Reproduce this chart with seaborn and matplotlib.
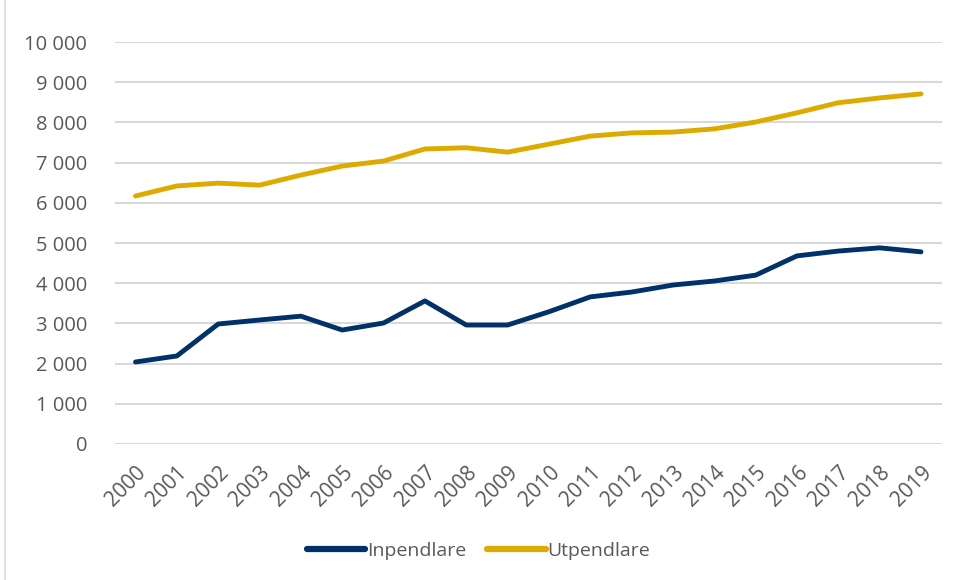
import matplotlib
matplotlib.use("Agg")
import matplotlib.pyplot as plt
import seaborn as sns
import pandas as pd
from matplotlib.ticker import FuncFormatter, MultipleLocator
from matplotlib.patches import Rectangle

years = [str(y) for y in range(2000, 2020)]
inpendlare = [2040, 2190, 2985, 3085, 3180, 2835, 3010, 3560, 2960, 2960,
              3290, 3660, 3780, 3955, 4055, 4200, 4680, 4800, 4880, 4780]
utpendlare = [6170, 6420, 6490, 6440, 6690, 6915, 7040, 7340, 7370, 7260,
              7460, 7660, 7740, 7760, 7840, 8010, 8240, 8490, 8610, 8710]
series_names = ["Inpendlare", "Utpendlare"]
colors = ["#003168", "#DDAA00"]

df = pd.DataFrame({"year": years * 2,
                   "value": inpendlare + utpendlare,
                   "series": [series_names[0]] * len(years) + [series_names[1]] * len(years)})

sns.set_theme(style="white")
plt.rcParams['font.family'] = ['Open Sans', 'DejaVu Sans']

fig = plt.figure(figsize=(9.57, 5.8), dpi=100)
ax = fig.add_axes([0.120, 0.2345, 0.864, 0.693])

sns.lineplot(data=df, x="year", y="value", hue="series", palette=colors,
             linewidth=3.5, ax=ax, sort=False, legend=True)
for line in ax.get_lines():
    line.set_solid_capstyle("round")

ax.set_xlim(-0.5, len(years) - 0.5)
ax.set_ylim(0, 10000)
ax.yaxis.set_major_locator(MultipleLocator(1000))
ax.yaxis.set_major_formatter(FuncFormatter(lambda v, p: f"{int(v):,}".replace(",", " ")))
ax.grid(axis="y", color="#D9D9D9", linewidth=1.5)
ax.set_axisbelow(True)
for s in ax.spines.values():
    s.set_visible(False)
ax.set_xlabel("")
ax.set_ylabel("")
ax.tick_params(axis="both", colors="#595959", length=0)
ax.tick_params(axis="y", labelsize=14.5, pad=20)
ax.tick_params(axis="x", labelsize=15, pad=13)
plt.setp(ax.get_xticklabels(), rotation=45, ha="right", rotation_mode="anchor")

handles, labels = ax.get_legend_handles_labels()
leg = ax.legend(handles, labels, loc="center", bbox_to_anchor=(0.5, 0.05),
                bbox_transform=fig.transFigure, ncol=2, frameon=False,
                fontsize=14, handlelength=3.0, handletextpad=0.1, columnspacing=1.1)
for t in leg.get_texts():
    t.set_color("#595959")
for h in leg.legend_handles:
    h.set_linewidth(4.5)

fig.patches.append(Rectangle((0.005, -0.01), 1.2, 1.2, transform=fig.transFigure,
                             fill=False, edgecolor="#D9D9D9", linewidth=1.2))

fig.savefig("out.png", dpi=100)
